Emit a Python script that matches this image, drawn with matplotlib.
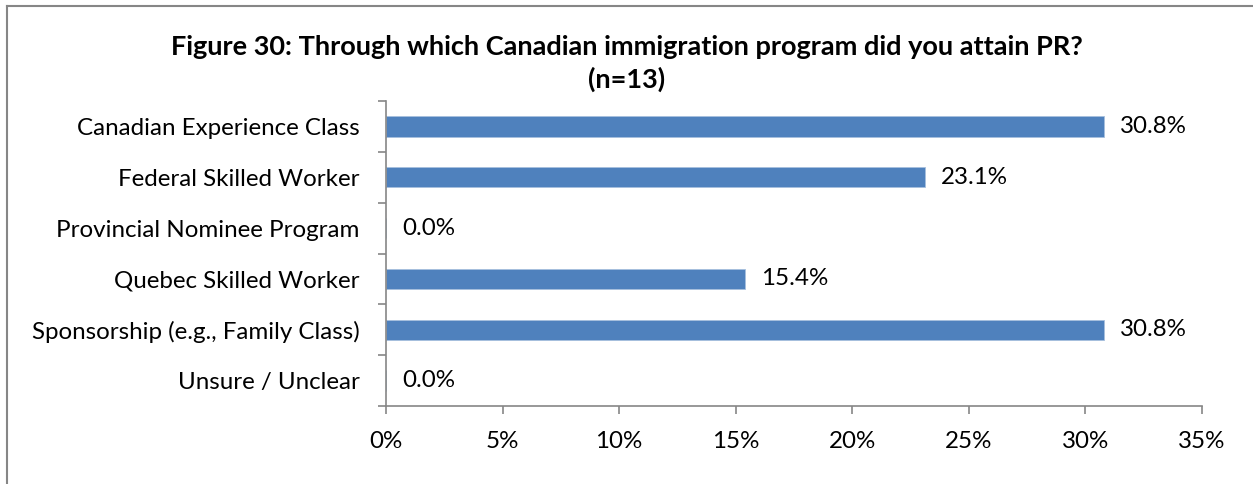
import matplotlib
matplotlib.use("Agg")
import matplotlib.pyplot as plt
from matplotlib.lines import Line2D
from matplotlib.ticker import FuncFormatter, MultipleLocator

categories = [
    "Canadian Experience Class",
    "Federal Skilled Worker",
    "Provincial Nominee Program",
    "Quebec Skilled Worker",
    "Sponsorship (e.g., Family Class)",
    "Unsure / Unclear",
]
values = [30.8, 23.1, 0.0, 15.4, 30.8, 0.0]
title = "Figure 30: Through which Canadian immigration program did you attain PR?\n(n=13)"

plt.rcParams['font.family'] = ['Lato', 'DejaVu Sans']

W, H = 1253, 484
fig = plt.figure(figsize=(W / 100, H / 100), dpi=100)
ax = fig.add_axes([386 / W, 1 - 406 / H, (1202 - 386) / W, (406 - 101) / H])

grey = "#868686"
bar_color = "#4F81BD"
fs = 17.4

n = len(categories)
ypos = list(range(n))
ax.barh(ypos, values, height=0.4, color=bar_color, edgecolor="#A7C0DE", linewidth=0.6)
ax.set_ylim(n - 0.5, -0.5)
ax.set_xlim(0, 35)

for y, v in zip(ypos, values):
    ax.annotate(f"{v:.1f}%", xy=(v, y), xytext=(16, 0), textcoords="offset pixels",
                ha="left", va="center", fontsize=fs, color="black")

ax.xaxis.set_major_locator(MultipleLocator(5))
ax.xaxis.set_major_formatter(FuncFormatter(lambda x, p: f"{x:.0f}%"))
ax.set_yticks(ypos)
ax.set_yticklabels(categories, fontsize=fs)
ax.set_yticks([i - 0.5 for i in range(n + 1)], minor=True)
ax.tick_params(axis="y", which="major", length=0, pad=19)
ax.tick_params(axis="y", which="minor", length=6, color=grey, width=1.2, direction="out")
ax.tick_params(axis="x", which="major", length=6, color=grey, width=1.2, direction="out", labelsize=fs, pad=12)

for s in ["top", "right"]:
    ax.spines[s].set_visible(False)
for s in ["left", "bottom"]:
    ax.spines[s].set_color(grey)
    ax.spines[s].set_linewidth(1.2)

fig.text(627 / W, 1 - 63.5 / H, title, ha="center", va="center", fontsize=19.5,
         fontweight="bold", linespacing=1.38)

# outer chart border (top and left visible)
fig.add_artist(Line2D([6.5 / W, 1], [1 - 5.5 / H, 1 - 5.5 / H], color=grey, lw=1.5, transform=fig.transFigure))
fig.add_artist(Line2D([6.5 / W, 6.5 / W], [0, 1 - 5.5 / H], color=grey, lw=1.5, transform=fig.transFigure))

fig.savefig("out.png", dpi=100)
